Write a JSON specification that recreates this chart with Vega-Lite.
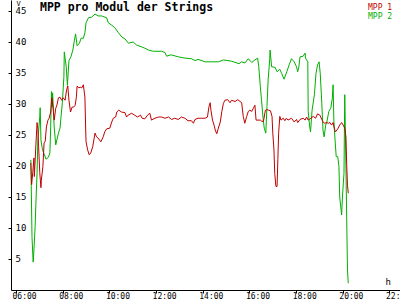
{
  "$schema": "https://vega.github.io/schema/vega-lite/v6.json",
  "autosize": "none",
  "width": 389,
  "height": 290,
  "padding": {"left": 11, "top": 0, "right": 0, "bottom": 10},
  "background": "white",
  "config": {"view": {"stroke": null}},
  "title": {"text": "MPP pro Modul der Strings", "anchor": "start", "frame": "group", "offset": -14, "dx": 29, "font": "DejaVu Sans Mono", "fontSize": 11.5, "fontWeight": "bold", "color": "black"},
  "data": {
    "values": [
      {"s": "MPP 2", "t": "2024-06-01T06:38", "v": 21.0},
      {"s": "MPP 2", "t": "2024-06-01T06:39", "v": 16.9},
      {"s": "MPP 2", "t": "2024-06-01T06:41", "v": 8.5},
      {"s": "MPP 2", "t": "2024-06-01T06:44", "v": 4.5},
      {"s": "MPP 2", "t": "2024-06-01T06:46", "v": 6.5},
      {"s": "MPP 2", "t": "2024-06-01T06:49", "v": 10.2},
      {"s": "MPP 2", "t": "2024-06-01T06:51", "v": 14.0},
      {"s": "MPP 2", "t": "2024-06-01T06:54", "v": 18.9},
      {"s": "MPP 2", "t": "2024-06-01T06:56", "v": 24.0},
      {"s": "MPP 2", "t": "2024-06-01T07:01", "v": 28.0},
      {"s": "MPP 2", "t": "2024-06-01T07:02", "v": 29.4},
      {"s": "MPP 2", "t": "2024-06-01T07:04", "v": 24.2},
      {"s": "MPP 2", "t": "2024-06-01T07:08", "v": 22.6},
      {"s": "MPP 2", "t": "2024-06-01T07:13", "v": 21.8},
      {"s": "MPP 2", "t": "2024-06-01T07:17", "v": 21.1},
      {"s": "MPP 2", "t": "2024-06-01T07:23", "v": 21.4},
      {"s": "MPP 2", "t": "2024-06-01T07:27", "v": 22.1},
      {"s": "MPP 2", "t": "2024-06-01T07:29", "v": 26.3},
      {"s": "MPP 2", "t": "2024-06-01T07:31", "v": 32.0},
      {"s": "MPP 2", "t": "2024-06-01T07:33", "v": 29.5},
      {"s": "MPP 2", "t": "2024-06-01T07:34", "v": 31.8},
      {"s": "MPP 2", "t": "2024-06-01T07:38", "v": 26.3},
      {"s": "MPP 2", "t": "2024-06-01T07:42", "v": 23.4},
      {"s": "MPP 2", "t": "2024-06-01T07:46", "v": 24.5},
      {"s": "MPP 2", "t": "2024-06-01T07:49", "v": 25.3},
      {"s": "MPP 2", "t": "2024-06-01T07:53", "v": 26.1},
      {"s": "MPP 2", "t": "2024-06-01T07:56", "v": 28.2},
      {"s": "MPP 2", "t": "2024-06-01T07:59", "v": 30.2},
      {"s": "MPP 2", "t": "2024-06-01T08:03", "v": 34.4},
      {"s": "MPP 2", "t": "2024-06-01T08:04", "v": 38.4},
      {"s": "MPP 2", "t": "2024-06-01T08:06", "v": 37.4},
      {"s": "MPP 2", "t": "2024-06-01T08:09", "v": 36.0},
      {"s": "MPP 2", "t": "2024-06-01T08:12", "v": 33.0},
      {"s": "MPP 2", "t": "2024-06-01T08:16", "v": 37.0},
      {"s": "MPP 2", "t": "2024-06-01T08:21", "v": 37.6},
      {"s": "MPP 2", "t": "2024-06-01T08:26", "v": 38.7},
      {"s": "MPP 2", "t": "2024-06-01T08:30", "v": 40.3},
      {"s": "MPP 2", "t": "2024-06-01T08:33", "v": 41.3},
      {"s": "MPP 2", "t": "2024-06-01T08:37", "v": 39.4},
      {"s": "MPP 2", "t": "2024-06-01T08:43", "v": 39.8},
      {"s": "MPP 2", "t": "2024-06-01T08:47", "v": 40.6},
      {"s": "MPP 2", "t": "2024-06-01T08:53", "v": 40.6},
      {"s": "MPP 2", "t": "2024-06-01T08:57", "v": 41.5},
      {"s": "MPP 2", "t": "2024-06-01T09:00", "v": 43.1},
      {"s": "MPP 2", "t": "2024-06-01T09:06", "v": 43.9},
      {"s": "MPP 2", "t": "2024-06-01T09:14", "v": 44.0},
      {"s": "MPP 2", "t": "2024-06-01T09:23", "v": 44.5},
      {"s": "MPP 2", "t": "2024-06-01T09:31", "v": 44.2},
      {"s": "MPP 2", "t": "2024-06-01T09:40", "v": 44.2},
      {"s": "MPP 2", "t": "2024-06-01T09:53", "v": 43.9},
      {"s": "MPP 2", "t": "2024-06-01T09:57", "v": 43.1},
      {"s": "MPP 2", "t": "2024-06-01T10:06", "v": 42.7},
      {"s": "MPP 2", "t": "2024-06-01T10:14", "v": 42.3},
      {"s": "MPP 2", "t": "2024-06-01T10:23", "v": 41.5},
      {"s": "MPP 2", "t": "2024-06-01T10:32", "v": 40.8},
      {"s": "MPP 2", "t": "2024-06-01T10:40", "v": 40.5},
      {"s": "MPP 2", "t": "2024-06-01T10:49", "v": 39.8},
      {"s": "MPP 2", "t": "2024-06-01T11:01", "v": 40.0},
      {"s": "MPP 2", "t": "2024-06-01T11:10", "v": 39.5},
      {"s": "MPP 2", "t": "2024-06-01T11:23", "v": 39.2},
      {"s": "MPP 2", "t": "2024-06-01T11:31", "v": 39.0},
      {"s": "MPP 2", "t": "2024-06-01T11:40", "v": 38.7},
      {"s": "MPP 2", "t": "2024-06-01T11:53", "v": 38.5},
      {"s": "MPP 2", "t": "2024-06-01T12:14", "v": 38.5},
      {"s": "MPP 2", "t": "2024-06-01T12:23", "v": 38.3},
      {"s": "MPP 2", "t": "2024-06-01T12:27", "v": 37.7},
      {"s": "MPP 2", "t": "2024-06-01T12:36", "v": 37.9},
      {"s": "MPP 2", "t": "2024-06-01T12:40", "v": 37.9},
      {"s": "MPP 2", "t": "2024-06-01T12:57", "v": 37.6},
      {"s": "MPP 2", "t": "2024-06-01T13:14", "v": 37.4},
      {"s": "MPP 2", "t": "2024-06-01T13:31", "v": 37.3},
      {"s": "MPP 2", "t": "2024-06-01T13:40", "v": 37.0},
      {"s": "MPP 2", "t": "2024-06-01T13:48", "v": 37.2},
      {"s": "MPP 2", "t": "2024-06-01T14:06", "v": 36.8},
      {"s": "MPP 2", "t": "2024-06-01T14:23", "v": 36.8},
      {"s": "MPP 2", "t": "2024-06-01T14:40", "v": 36.8},
      {"s": "MPP 2", "t": "2024-06-01T14:53", "v": 37.1},
      {"s": "MPP 2", "t": "2024-06-01T15:14", "v": 36.9},
      {"s": "MPP 2", "t": "2024-06-01T15:33", "v": 36.5},
      {"s": "MPP 2", "t": "2024-06-01T15:40", "v": 36.8},
      {"s": "MPP 2", "t": "2024-06-01T15:48", "v": 36.6},
      {"s": "MPP 2", "t": "2024-06-01T15:57", "v": 37.3},
      {"s": "MPP 2", "t": "2024-06-01T16:06", "v": 36.7},
      {"s": "MPP 2", "t": "2024-06-01T16:14", "v": 37.1},
      {"s": "MPP 2", "t": "2024-06-01T16:21", "v": 37.4},
      {"s": "MPP 2", "t": "2024-06-01T16:24", "v": 36.0},
      {"s": "MPP 2", "t": "2024-06-01T16:28", "v": 32.8},
      {"s": "MPP 2", "t": "2024-06-01T16:31", "v": 30.6},
      {"s": "MPP 2", "t": "2024-06-01T16:35", "v": 27.7},
      {"s": "MPP 2", "t": "2024-06-01T16:38", "v": 26.1},
      {"s": "MPP 2", "t": "2024-06-01T16:42", "v": 25.3},
      {"s": "MPP 2", "t": "2024-06-01T16:45", "v": 29.6},
      {"s": "MPP 2", "t": "2024-06-01T16:48", "v": 33.9},
      {"s": "MPP 2", "t": "2024-06-01T16:52", "v": 37.1},
      {"s": "MPP 2", "t": "2024-06-01T16:53", "v": 38.7},
      {"s": "MPP 2", "t": "2024-06-01T16:57", "v": 36.0},
      {"s": "MPP 2", "t": "2024-06-01T17:06", "v": 35.9},
      {"s": "MPP 2", "t": "2024-06-01T17:11", "v": 35.2},
      {"s": "MPP 2", "t": "2024-06-01T17:18", "v": 35.6},
      {"s": "MPP 2", "t": "2024-06-01T17:23", "v": 34.9},
      {"s": "MPP 2", "t": "2024-06-01T17:29", "v": 34.0},
      {"s": "MPP 2", "t": "2024-06-01T17:36", "v": 35.2},
      {"s": "MPP 2", "t": "2024-06-01T17:42", "v": 36.3},
      {"s": "MPP 2", "t": "2024-06-01T17:48", "v": 37.3},
      {"s": "MPP 2", "t": "2024-06-01T17:55", "v": 36.8},
      {"s": "MPP 2", "t": "2024-06-01T18:01", "v": 36.0},
      {"s": "MPP 2", "t": "2024-06-01T18:04", "v": 35.2},
      {"s": "MPP 2", "t": "2024-06-01T18:07", "v": 36.0},
      {"s": "MPP 2", "t": "2024-06-01T18:10", "v": 37.6},
      {"s": "MPP 2", "t": "2024-06-01T18:18", "v": 37.7},
      {"s": "MPP 2", "t": "2024-06-01T18:23", "v": 38.2},
      {"s": "MPP 2", "t": "2024-06-01T18:24", "v": 37.4},
      {"s": "MPP 2", "t": "2024-06-01T18:30", "v": 36.8},
      {"s": "MPP 2", "t": "2024-06-01T18:31", "v": 28.8},
      {"s": "MPP 2", "t": "2024-06-01T18:35", "v": 26.3},
      {"s": "MPP 2", "t": "2024-06-01T18:37", "v": 25.5},
      {"s": "MPP 2", "t": "2024-06-01T18:41", "v": 29.0},
      {"s": "MPP 2", "t": "2024-06-01T18:47", "v": 31.5},
      {"s": "MPP 2", "t": "2024-06-01T18:51", "v": 34.9},
      {"s": "MPP 2", "t": "2024-06-01T18:55", "v": 36.3},
      {"s": "MPP 2", "t": "2024-06-01T18:59", "v": 36.8},
      {"s": "MPP 2", "t": "2024-06-01T19:02", "v": 34.9},
      {"s": "MPP 2", "t": "2024-06-01T19:06", "v": 30.1},
      {"s": "MPP 2", "t": "2024-06-01T19:09", "v": 25.8},
      {"s": "MPP 2", "t": "2024-06-01T19:12", "v": 24.7},
      {"s": "MPP 2", "t": "2024-06-01T19:16", "v": 26.6},
      {"s": "MPP 2", "t": "2024-06-01T19:19", "v": 27.1},
      {"s": "MPP 2", "t": "2024-06-01T19:24", "v": 28.8},
      {"s": "MPP 2", "t": "2024-06-01T19:29", "v": 29.3},
      {"s": "MPP 2", "t": "2024-06-01T19:33", "v": 30.9},
      {"s": "MPP 2", "t": "2024-06-01T19:35", "v": 33.1},
      {"s": "MPP 2", "t": "2024-06-01T19:37", "v": 27.4},
      {"s": "MPP 2", "t": "2024-06-01T19:40", "v": 24.2},
      {"s": "MPP 2", "t": "2024-06-01T19:43", "v": 21.5},
      {"s": "MPP 2", "t": "2024-06-01T19:47", "v": 21.5},
      {"s": "MPP 2", "t": "2024-06-01T19:50", "v": 19.9},
      {"s": "MPP 2", "t": "2024-06-01T19:52", "v": 15.0},
      {"s": "MPP 2", "t": "2024-06-01T19:57", "v": 12.1},
      {"s": "MPP 2", "t": "2024-06-01T19:59", "v": 15.0},
      {"s": "MPP 2", "t": "2024-06-01T20:03", "v": 18.8},
      {"s": "MPP 2", "t": "2024-06-01T20:05", "v": 31.5},
      {"s": "MPP 2", "t": "2024-06-01T20:07", "v": 24.2},
      {"s": "MPP 2", "t": "2024-06-01T20:10", "v": 11.3},
      {"s": "MPP 2", "t": "2024-06-01T20:12", "v": 3.2},
      {"s": "MPP 2", "t": "2024-06-01T20:14", "v": 1.1},
      {"s": "MPP 1", "t": "2024-06-01T06:38", "v": 20.5},
      {"s": "MPP 1", "t": "2024-06-01T06:40", "v": 17.0},
      {"s": "MPP 1", "t": "2024-06-01T06:43", "v": 19.0},
      {"s": "MPP 1", "t": "2024-06-01T06:46", "v": 21.3},
      {"s": "MPP 1", "t": "2024-06-01T06:47", "v": 18.3},
      {"s": "MPP 1", "t": "2024-06-01T06:51", "v": 23.4},
      {"s": "MPP 1", "t": "2024-06-01T06:54", "v": 27.0},
      {"s": "MPP 1", "t": "2024-06-01T06:56", "v": 26.0},
      {"s": "MPP 1", "t": "2024-06-01T06:58", "v": 23.1},
      {"s": "MPP 1", "t": "2024-06-01T07:01", "v": 18.9},
      {"s": "MPP 1", "t": "2024-06-01T07:04", "v": 16.5},
      {"s": "MPP 1", "t": "2024-06-01T07:05", "v": 17.7},
      {"s": "MPP 1", "t": "2024-06-01T07:09", "v": 19.9},
      {"s": "MPP 1", "t": "2024-06-01T07:12", "v": 23.7},
      {"s": "MPP 1", "t": "2024-06-01T07:15", "v": 24.0},
      {"s": "MPP 1", "t": "2024-06-01T07:18", "v": 26.3},
      {"s": "MPP 1", "t": "2024-06-01T07:22", "v": 27.4},
      {"s": "MPP 1", "t": "2024-06-01T07:25", "v": 27.7},
      {"s": "MPP 1", "t": "2024-06-01T07:29", "v": 28.7},
      {"s": "MPP 1", "t": "2024-06-01T07:32", "v": 31.0},
      {"s": "MPP 1", "t": "2024-06-01T07:35", "v": 29.5},
      {"s": "MPP 1", "t": "2024-06-01T07:38", "v": 27.4},
      {"s": "MPP 1", "t": "2024-06-01T07:42", "v": 29.3},
      {"s": "MPP 1", "t": "2024-06-01T07:45", "v": 29.8},
      {"s": "MPP 1", "t": "2024-06-01T07:49", "v": 31.0},
      {"s": "MPP 1", "t": "2024-06-01T07:53", "v": 31.1},
      {"s": "MPP 1", "t": "2024-06-01T07:57", "v": 30.6},
      {"s": "MPP 1", "t": "2024-06-01T08:01", "v": 31.0},
      {"s": "MPP 1", "t": "2024-06-01T08:06", "v": 30.6},
      {"s": "MPP 1", "t": "2024-06-01T08:10", "v": 32.3},
      {"s": "MPP 1", "t": "2024-06-01T08:13", "v": 32.9},
      {"s": "MPP 1", "t": "2024-06-01T08:16", "v": 30.6},
      {"s": "MPP 1", "t": "2024-06-01T08:20", "v": 28.7},
      {"s": "MPP 1", "t": "2024-06-01T08:24", "v": 29.5},
      {"s": "MPP 1", "t": "2024-06-01T08:28", "v": 29.5},
      {"s": "MPP 1", "t": "2024-06-01T08:32", "v": 29.8},
      {"s": "MPP 1", "t": "2024-06-01T08:35", "v": 31.1},
      {"s": "MPP 1", "t": "2024-06-01T08:37", "v": 32.9},
      {"s": "MPP 1", "t": "2024-06-01T08:41", "v": 32.6},
      {"s": "MPP 1", "t": "2024-06-01T08:45", "v": 32.7},
      {"s": "MPP 1", "t": "2024-06-01T08:49", "v": 32.6},
      {"s": "MPP 1", "t": "2024-06-01T08:53", "v": 33.1},
      {"s": "MPP 1", "t": "2024-06-01T08:57", "v": 31.1},
      {"s": "MPP 1", "t": "2024-06-01T08:59", "v": 25.8},
      {"s": "MPP 1", "t": "2024-06-01T09:00", "v": 23.9},
      {"s": "MPP 1", "t": "2024-06-01T09:04", "v": 22.6},
      {"s": "MPP 1", "t": "2024-06-01T09:08", "v": 21.8},
      {"s": "MPP 1", "t": "2024-06-01T09:12", "v": 22.1},
      {"s": "MPP 1", "t": "2024-06-01T09:17", "v": 23.1},
      {"s": "MPP 1", "t": "2024-06-01T09:20", "v": 24.2},
      {"s": "MPP 1", "t": "2024-06-01T09:23", "v": 25.3},
      {"s": "MPP 1", "t": "2024-06-01T09:27", "v": 24.7},
      {"s": "MPP 1", "t": "2024-06-01T09:31", "v": 24.5},
      {"s": "MPP 1", "t": "2024-06-01T09:38", "v": 23.9},
      {"s": "MPP 1", "t": "2024-06-01T09:44", "v": 24.7},
      {"s": "MPP 1", "t": "2024-06-01T09:48", "v": 25.5},
      {"s": "MPP 1", "t": "2024-06-01T09:53", "v": 26.0},
      {"s": "MPP 1", "t": "2024-06-01T10:01", "v": 26.1},
      {"s": "MPP 1", "t": "2024-06-01T10:06", "v": 27.1},
      {"s": "MPP 1", "t": "2024-06-01T10:10", "v": 27.7},
      {"s": "MPP 1", "t": "2024-06-01T10:16", "v": 27.9},
      {"s": "MPP 1", "t": "2024-06-01T10:19", "v": 28.7},
      {"s": "MPP 1", "t": "2024-06-01T10:24", "v": 29.0},
      {"s": "MPP 1", "t": "2024-06-01T10:31", "v": 28.7},
      {"s": "MPP 1", "t": "2024-06-01T10:40", "v": 28.6},
      {"s": "MPP 1", "t": "2024-06-01T10:44", "v": 27.9},
      {"s": "MPP 1", "t": "2024-06-01T10:48", "v": 28.2},
      {"s": "MPP 1", "t": "2024-06-01T10:57", "v": 28.5},
      {"s": "MPP 1", "t": "2024-06-01T11:05", "v": 28.2},
      {"s": "MPP 1", "t": "2024-06-01T11:12", "v": 27.9},
      {"s": "MPP 1", "t": "2024-06-01T11:20", "v": 28.2},
      {"s": "MPP 1", "t": "2024-06-01T11:24", "v": 27.7},
      {"s": "MPP 1", "t": "2024-06-01T11:31", "v": 27.6},
      {"s": "MPP 1", "t": "2024-06-01T11:38", "v": 28.2},
      {"s": "MPP 1", "t": "2024-06-01T11:44", "v": 28.5},
      {"s": "MPP 1", "t": "2024-06-01T11:48", "v": 27.4},
      {"s": "MPP 1", "t": "2024-06-01T11:57", "v": 27.7},
      {"s": "MPP 1", "t": "2024-06-01T12:06", "v": 27.9},
      {"s": "MPP 1", "t": "2024-06-01T12:14", "v": 27.9},
      {"s": "MPP 1", "t": "2024-06-01T12:23", "v": 27.7},
      {"s": "MPP 1", "t": "2024-06-01T12:32", "v": 27.9},
      {"s": "MPP 1", "t": "2024-06-01T12:40", "v": 27.5},
      {"s": "MPP 1", "t": "2024-06-01T12:48", "v": 27.7},
      {"s": "MPP 1", "t": "2024-06-01T12:57", "v": 27.5},
      {"s": "MPP 1", "t": "2024-06-01T13:05", "v": 27.9},
      {"s": "MPP 1", "t": "2024-06-01T13:14", "v": 27.7},
      {"s": "MPP 1", "t": "2024-06-01T13:22", "v": 27.3},
      {"s": "MPP 1", "t": "2024-06-01T13:31", "v": 27.3},
      {"s": "MPP 1", "t": "2024-06-01T13:36", "v": 26.9},
      {"s": "MPP 1", "t": "2024-06-01T13:40", "v": 27.5},
      {"s": "MPP 1", "t": "2024-06-01T13:48", "v": 27.7},
      {"s": "MPP 1", "t": "2024-06-01T13:57", "v": 27.7},
      {"s": "MPP 1", "t": "2024-06-01T14:06", "v": 27.7},
      {"s": "MPP 1", "t": "2024-06-01T14:12", "v": 27.9},
      {"s": "MPP 1", "t": "2024-06-01T14:16", "v": 29.6},
      {"s": "MPP 1", "t": "2024-06-01T14:19", "v": 30.2},
      {"s": "MPP 1", "t": "2024-06-01T14:21", "v": 29.0},
      {"s": "MPP 1", "t": "2024-06-01T14:25", "v": 27.4},
      {"s": "MPP 1", "t": "2024-06-01T14:29", "v": 26.6},
      {"s": "MPP 1", "t": "2024-06-01T14:32", "v": 25.8},
      {"s": "MPP 1", "t": "2024-06-01T14:36", "v": 25.2},
      {"s": "MPP 1", "t": "2024-06-01T14:40", "v": 26.1},
      {"s": "MPP 1", "t": "2024-06-01T14:45", "v": 27.1},
      {"s": "MPP 1", "t": "2024-06-01T14:49", "v": 28.8},
      {"s": "MPP 1", "t": "2024-06-01T14:53", "v": 30.1},
      {"s": "MPP 1", "t": "2024-06-01T14:57", "v": 30.6},
      {"s": "MPP 1", "t": "2024-06-01T15:04", "v": 30.7},
      {"s": "MPP 1", "t": "2024-06-01T15:10", "v": 30.2},
      {"s": "MPP 1", "t": "2024-06-01T15:14", "v": 30.6},
      {"s": "MPP 1", "t": "2024-06-01T15:23", "v": 30.4},
      {"s": "MPP 1", "t": "2024-06-01T15:30", "v": 30.7},
      {"s": "MPP 1", "t": "2024-06-01T15:40", "v": 30.2},
      {"s": "MPP 1", "t": "2024-06-01T15:44", "v": 28.0},
      {"s": "MPP 1", "t": "2024-06-01T15:48", "v": 26.9},
      {"s": "MPP 1", "t": "2024-06-01T15:53", "v": 28.0},
      {"s": "MPP 1", "t": "2024-06-01T15:57", "v": 28.8},
      {"s": "MPP 1", "t": "2024-06-01T16:01", "v": 29.0},
      {"s": "MPP 1", "t": "2024-06-01T16:06", "v": 28.8},
      {"s": "MPP 1", "t": "2024-06-01T16:10", "v": 29.3},
      {"s": "MPP 1", "t": "2024-06-01T16:14", "v": 29.8},
      {"s": "MPP 1", "t": "2024-06-01T16:17", "v": 27.4},
      {"s": "MPP 1", "t": "2024-06-01T16:28", "v": 27.4},
      {"s": "MPP 1", "t": "2024-06-01T16:32", "v": 27.2},
      {"s": "MPP 1", "t": "2024-06-01T16:36", "v": 27.2},
      {"s": "MPP 1", "t": "2024-06-01T16:41", "v": 29.0},
      {"s": "MPP 1", "t": "2024-06-01T16:45", "v": 29.1},
      {"s": "MPP 1", "t": "2024-06-01T16:49", "v": 29.0},
      {"s": "MPP 1", "t": "2024-06-01T16:54", "v": 28.9},
      {"s": "MPP 1", "t": "2024-06-01T16:58", "v": 28.0},
      {"s": "MPP 1", "t": "2024-06-01T17:00", "v": 25.3},
      {"s": "MPP 1", "t": "2024-06-01T17:03", "v": 22.6},
      {"s": "MPP 1", "t": "2024-06-01T17:05", "v": 18.8},
      {"s": "MPP 1", "t": "2024-06-01T17:08", "v": 16.7},
      {"s": "MPP 1", "t": "2024-06-01T17:11", "v": 16.7},
      {"s": "MPP 1", "t": "2024-06-01T17:13", "v": 21.0},
      {"s": "MPP 1", "t": "2024-06-01T17:15", "v": 25.3},
      {"s": "MPP 1", "t": "2024-06-01T17:18", "v": 28.0},
      {"s": "MPP 1", "t": "2024-06-01T17:21", "v": 27.4},
      {"s": "MPP 1", "t": "2024-06-01T17:27", "v": 27.7},
      {"s": "MPP 1", "t": "2024-06-01T17:31", "v": 27.3},
      {"s": "MPP 1", "t": "2024-06-01T17:35", "v": 27.7},
      {"s": "MPP 1", "t": "2024-06-01T17:39", "v": 27.4},
      {"s": "MPP 1", "t": "2024-06-01T17:48", "v": 27.7},
      {"s": "MPP 1", "t": "2024-06-01T17:55", "v": 27.1},
      {"s": "MPP 1", "t": "2024-06-01T18:01", "v": 27.5},
      {"s": "MPP 1", "t": "2024-06-01T18:04", "v": 27.0},
      {"s": "MPP 1", "t": "2024-06-01T18:10", "v": 27.5},
      {"s": "MPP 1", "t": "2024-06-01T18:18", "v": 27.7},
      {"s": "MPP 1", "t": "2024-06-01T18:23", "v": 27.4},
      {"s": "MPP 1", "t": "2024-06-01T18:27", "v": 27.9},
      {"s": "MPP 1", "t": "2024-06-01T18:31", "v": 27.4},
      {"s": "MPP 1", "t": "2024-06-01T18:38", "v": 27.7},
      {"s": "MPP 1", "t": "2024-06-01T18:44", "v": 28.0},
      {"s": "MPP 1", "t": "2024-06-01T18:50", "v": 27.7},
      {"s": "MPP 1", "t": "2024-06-01T18:55", "v": 28.4},
      {"s": "MPP 1", "t": "2024-06-01T19:01", "v": 28.2},
      {"s": "MPP 1", "t": "2024-06-01T19:06", "v": 27.5},
      {"s": "MPP 1", "t": "2024-06-01T19:10", "v": 27.0},
      {"s": "MPP 1", "t": "2024-06-01T19:14", "v": 26.9},
      {"s": "MPP 1", "t": "2024-06-01T19:19", "v": 27.0},
      {"s": "MPP 1", "t": "2024-06-01T19:23", "v": 26.9},
      {"s": "MPP 1", "t": "2024-06-01T19:27", "v": 27.0},
      {"s": "MPP 1", "t": "2024-06-01T19:31", "v": 26.6},
      {"s": "MPP 1", "t": "2024-06-01T19:35", "v": 27.0},
      {"s": "MPP 1", "t": "2024-06-01T19:38", "v": 26.1},
      {"s": "MPP 1", "t": "2024-06-01T19:41", "v": 25.5},
      {"s": "MPP 1", "t": "2024-06-01T19:45", "v": 25.8},
      {"s": "MPP 1", "t": "2024-06-01T19:48", "v": 26.1},
      {"s": "MPP 1", "t": "2024-06-01T19:52", "v": 26.6},
      {"s": "MPP 1", "t": "2024-06-01T19:57", "v": 27.0},
      {"s": "MPP 1", "t": "2024-06-01T20:01", "v": 26.6},
      {"s": "MPP 1", "t": "2024-06-01T20:05", "v": 26.1},
      {"s": "MPP 1", "t": "2024-06-01T20:08", "v": 24.7},
      {"s": "MPP 1", "t": "2024-06-01T20:10", "v": 20.2},
      {"s": "MPP 1", "t": "2024-06-01T20:12", "v": 16.9},
      {"s": "MPP 1", "t": "2024-06-01T20:14", "v": 15.6}
    ]
  },
  "encoding": {
    "x": {
      "field": "t", "type": "temporal",
      "scale": {"domain": [{"year": 2024, "month": 6, "date": 1, "hours": 5, "minutes": 47}, {"year": 2024, "month": 6, "date": 1, "hours": 22, "minutes": 27}], "nice": false},
      "axis": {
        "format": "%H:%M",
        "values": [{"year": 2024, "month": 6, "date": 1, "hours": 6}, {"year": 2024, "month": 6, "date": 1, "hours": 8}, {"year": 2024, "month": 6, "date": 1, "hours": 10}, {"year": 2024, "month": 6, "date": 1, "hours": 12}, {"year": 2024, "month": 6, "date": 1, "hours": 14}, {"year": 2024, "month": 6, "date": 1, "hours": 16}, {"year": 2024, "month": 6, "date": 1, "hours": 18}, {"year": 2024, "month": 6, "date": 1, "hours": 20}, {"year": 2024, "month": 6, "date": 1, "hours": 22}],
        "title": "h", "titleX": 374, "titleY": -6, "titleBaseline": "alphabetic", "titleAlign": "left", "titleAngle": 0,
        "titleFont": "DejaVu Sans Mono", "titleFontSize": 9, "titleFontWeight": "normal", "titleColor": "black",
        "domainColor": "black", "tickColor": "black", "tickSize": 3, "grid": false,
        "labelFont": "DejaVu Sans Mono", "labelFontSize": 8, "labelColor": "black", "labelAlign": "left", "labelOffset": -4,
        "labelPadding": -1, "labelBaseline": "top", "labelOverlap": false, "labelBound": false, "labelFlush": false
      }
    },
    "y": {
      "field": "v", "type": "quantitative",
      "scale": {"domain": [0, 46.77], "nice": false, "zero": true},
      "axis": {
        "values": [5, 10, 15, 20, 25, 30, 35, 40, 45],
        "title": "V", "titleX": 5, "titleY": -1, "titleAngle": 0, "titleAlign": "left", "titleBaseline": "top",
        "titleFont": "DejaVu Sans Mono", "titleFontSize": 7, "titleFontWeight": "normal", "titleColor": "black",
        "domainColor": "black", "tickColor": "black", "tickSize": 3, "grid": false,
        "labelFont": "DejaVu Sans Mono", "labelFontSize": 9, "labelColor": "black", "labelAlign": "left",
        "labelPadding": -7, "labelBaseline": "middle", "labelOverlap": false, "labelBound": false, "labelFlush": false
      }
    }
  },
  "layer": [
    {
      "transform": [{"filter": "datum.s === 'MPP 2'"}],
      "mark": {"type": "line", "strokeWidth": 1, "clip": true},
      "encoding": {
        "color": {
          "field": "s", "type": "nominal",
          "scale": {"domain": ["MPP 2"], "range": ["#00b000"]},
          "legend": {"orient": "none", "legendX": 349, "legendY": 13, "title": null, "symbolSize": 0, "symbolOpacity": 0, "symbolStrokeWidth": 0, "labelOffset": 0, "labelFont": "DejaVu Sans Mono", "labelFontSize": 8, "labelColor": "#00b000"}
        }
      }
    },
    {
      "transform": [{"filter": "datum.s === 'MPP 1'"}],
      "mark": {"type": "line", "strokeWidth": 1, "clip": true},
      "encoding": {
        "color": {
          "field": "s", "type": "nominal",
          "scale": {"domain": ["MPP 1"], "range": ["#c00000"]},
          "legend": {"orient": "none", "legendX": 349, "legendY": 4, "title": null, "symbolSize": 0, "symbolOpacity": 0, "symbolStrokeWidth": 0, "labelOffset": 0, "labelFont": "DejaVu Sans Mono", "labelFontSize": 8, "labelColor": "#c00000"}
        }
      }
    }
  ],
  "resolve": {"scale": {"color": "independent"}, "legend": {"color": "independent"}}
}
